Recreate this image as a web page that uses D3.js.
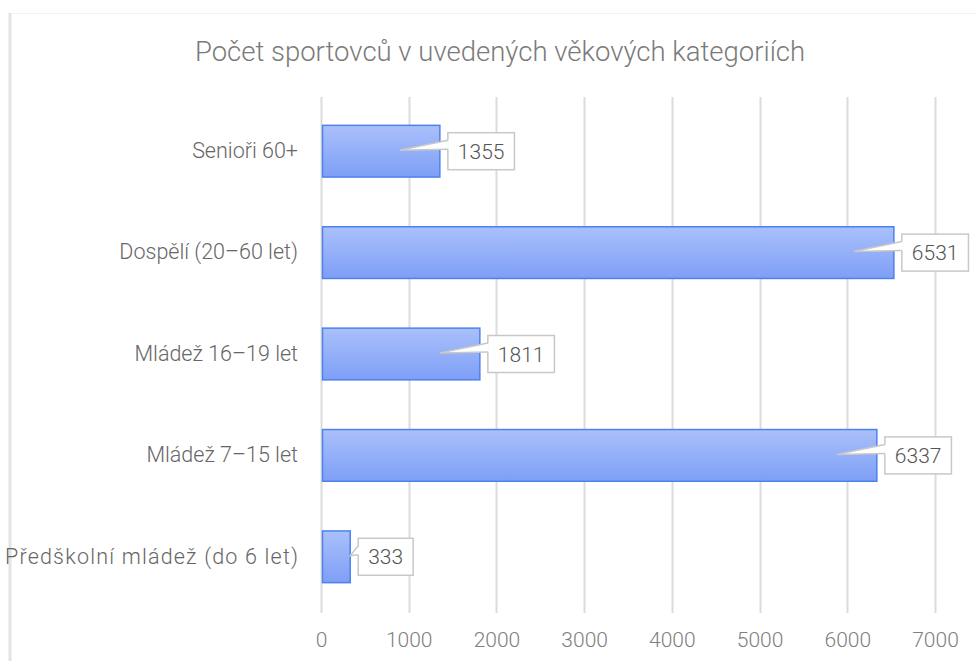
<!DOCTYPE html>
<html>
<head>
<meta charset="utf-8">
<script src="https://cdn.jsdelivr.net/npm/d3@7"></script>
<style>
  body { margin: 0; background: #fff; }
  text { font-family: Roboto, "Noto Sans", sans-serif; }
</style>
</head>
<body>
<script>
// data
var categories = ["Senioři 60+", "Dospělí (20–60 let)", "Mládež 16–19 let", "Mládež 7–15 let", "Předškolní mládež (do 6 let)"];
var values = [1355, 6531, 1811, 6337, 333];
var xTicks = [0, 1000, 2000, 3000, 4000, 5000, 6000, 7000];

var W = 976, H = 661;
var margin = {left: 321, right: 41, top: 97, bottom: 56};
var width = W - margin.left - margin.right,
    height = H - margin.top - margin.bottom;

var svg = d3.select("body").append("svg")
    .attr("width", W)
    .attr("height", H);

// gradient for bars
var defs = svg.append("defs");
var grad = defs.append("linearGradient")
    .attr("id", "barGrad")
    .attr("x1", 0).attr("y1", 0).attr("x2", 0).attr("y2", 1);
grad.append("stop").attr("offset", "0%").attr("stop-color", "#aac0fa");
grad.append("stop").attr("offset", "100%").attr("stop-color", "#7e9ff7");

// frame lines
svg.append("line").attr("x1", 10).attr("x2", 976).attr("y1", 13.5).attr("y2", 13.5)
    .attr("stroke", "#f2f2f2").attr("stroke-width", 1);
svg.append("line").attr("x1", 10).attr("x2", 10).attr("y1", 13).attr("y2", 661)
    .attr("stroke", "#e4e4e4").attr("stroke-width", 3);

// title
svg.append("text")
    .attr("x", 500)
    .attr("y", 61)
    .attr("text-anchor", "middle")
    .style("font-size", "27.5px")
    .style("font-weight", 300)
    .style("fill", "#7a7a7a")
    .text("Počet sportovců v uvedených věkových kategoriích");

var g = svg.append("g")
    .attr("transform", "translate(" + margin.left + "," + margin.top + ")");

var xScale = d3.scaleLinear().domain([0, 7000]).range([0, 614]);
var yScale = d3.scaleBand().domain(categories).range([3, height + 3]).paddingInner(0.49).paddingOuter(0.25);

// gridlines
g.selectAll(".grid")
    .data(xTicks)
    .enter().append("line")
    .attr("class", "grid")
    .attr("x1", function(d) { return Math.round(xScale(d)) + 0.5; })
    .attr("x2", function(d) { return Math.round(xScale(d)) + 0.5; })
    .attr("y1", 0)
    .attr("y2", height + 8)
    .attr("stroke", "#dcdcdc")
    .attr("stroke-width", 2);

// x axis labels
var xAxis = d3.axisBottom(xScale).tickValues(xTicks).tickFormat(d3.format("d")).tickSize(0).tickPadding(0);
var gx = g.append("g")
    .attr("transform", "translate(0," + (height + 32) + ")")
    .call(xAxis);
gx.select(".domain").remove();
gx.selectAll("text")
    .style("font-family", "Roboto, sans-serif")
    .style("font-size", "21px")
    .style("font-weight", 300)
    .style("fill", "#808080")
    .attr("dy", "0.36em")
    .attr("y", 2);

// y axis labels
var yAxis = d3.axisLeft(yScale).tickSize(0).tickPadding(23);
var gy = g.append("g").call(yAxis);
gy.select(".domain").remove();
gy.selectAll("text")
    .style("font-family", "Roboto, sans-serif")
    .style("font-size", "21.5px")
    .style("font-weight", 300)
    .style("fill", "#666");

// the long label is a bit wider in the reference
gy.selectAll("text").filter(function(d) { return d === categories[4]; })
    .attr("textLength", 293)
    .attr("lengthAdjust", "spacing");

// bars
g.selectAll(".bar")
    .data(values)
    .enter().append("rect")
    .attr("class", "bar")
    .attr("x", 1.5)
    .attr("y", function(d, i) { return yScale(categories[i]); })
    .attr("width", function(d) { return xScale(d) - 1.5; })
    .attr("height", yScale.bandwidth())
    .attr("fill", "url(#barGrad)")
    .attr("stroke", "#4d82ee")
    .attr("stroke-width", 1.5);

// callout labels
var labels = g.selectAll(".lbl")
    .data(values)
    .enter().append("g")
    .attr("class", "lbl")
    .attr("transform", function(d, i) {
        return "translate(" + xScale(d) + "," + (yScale(categories[i]) + yScale.bandwidth() / 2) + ")";
    });

labels.each(function(d) {
    var el = d3.select(this);
    var txt = el.append("text")
        .attr("x", 0)
        .attr("y", 0)
        .attr("dy", "0.36em")
        .style("font-size", "21px")
        .style("font-weight", 300)
        .style("fill", "#555")
        .text(d);
    var tw = txt.node().getComputedTextLength();
    var bx = 8, bw = tw + 20, bh = 37;
    var tip = xScale(d) > 80 ? -40 : 0;
    el.insert("rect", "text")
        .attr("x", bx)
        .attr("y", -bh / 2)
        .attr("width", bw)
        .attr("height", bh)
        .attr("fill", "#fff")
        .attr("stroke", "#c8c8c8")
        .attr("stroke-width", 1.5);
    el.insert("path", "text")
        .attr("d", "M" + tip + ",-1L" + (bx + 1) + ",-11L" + (bx + 1) + ",-2Z")
        .attr("fill", "#fff")
        .attr("stroke", "none");
    el.insert("path", "text")
        .attr("d", "M" + (bx) + ",-11L" + tip + ",-1L" + (bx) + ",-2")
        .attr("fill", "none")
        .attr("stroke", "#c8c8c8")
        .attr("stroke-width", 1.5);
    txt.attr("x", bx + 10);
});
</script>
</body>
</html>
